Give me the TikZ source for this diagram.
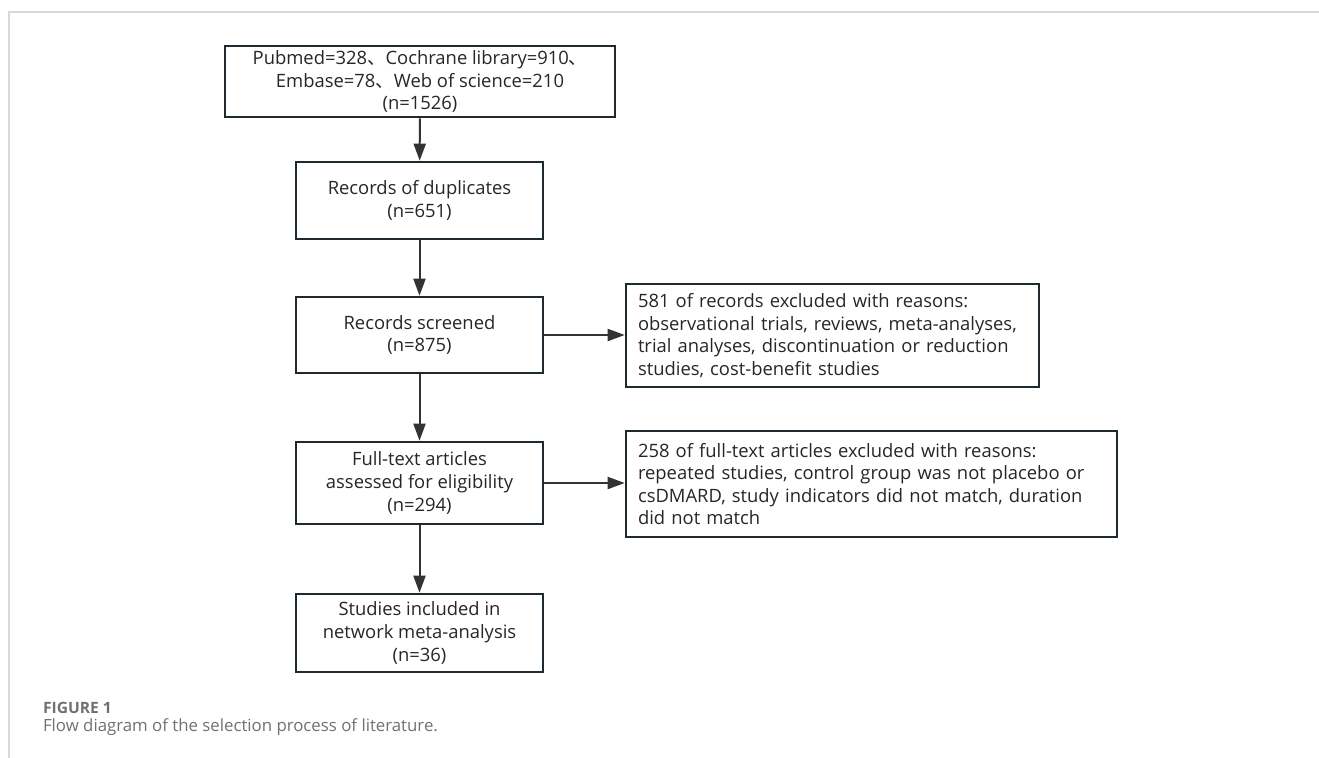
\documentclass[tikz,border=0pt]{standalone}
\usepackage{fontspec}
\setmainfont{Open Sans}
\newfontfamily\cjk{Noto Sans CJK SC}
\usepackage{tikz}
\usetikzlibrary{positioning,arrows.meta,calc}
\definecolor{boxline}{HTML}{1E2A30}
\definecolor{boxtext}{HTML}{262626}
\definecolor{arrowline}{HTML}{333333}
\definecolor{framegray}{HTML}{D9D9D9}
\definecolor{captiongray}{HTML}{707070}
\tikzset{
    every node/.style={font=\fontsize{9.2}{11.3}\selectfont,text=boxtext},
    flowbox/.style={rectangle,draw=boxline,line width=1.3pt,align=center,inner sep=1pt},
    sidebox/.style={rectangle,draw=boxline,line width=1.3pt,align=left,inner xsep=6pt,inner ysep=1pt},
    flowarrow/.style={draw=arrowline,line width=1pt,-{Triangle[length=8.5pt,width=6pt]}},
    framerule/.style={draw=framegray,line width=1pt}
}

\begin{document}
\begin{tikzpicture}[x=0.5pt,y=-0.5pt]
\useasboundingbox (0,0) rectangle (1319,758);
\draw[framerule] (1319,12) -- (9,12) -- (9,758);

% main column
\node[flowbox,minimum width=195pt,minimum height=35.5pt] (search) at (420,81.5)
    {Pubmed=328{\cjk 、}Cochrane library=910{\cjk 、}\\Embase=78{\cjk 、}Web of science=210\\(n=1526)};
\node[flowbox,minimum width=123.5pt,minimum height=38.5pt] (duplicates) at (419.5,200.5)
    {Records of duplicates\\(n=651)};
\node[flowbox,minimum width=123.5pt,minimum height=38pt] (screened) at (419.5,335)
    {Records screened\\(n=875)};
\node[flowbox,minimum width=123.5pt,minimum height=41pt] (fulltext) at (419.5,483)
    {Full-text articles\\assessed for eligibility\\(n=294)};
\node[flowbox,minimum width=123.5pt,minimum height=39pt] (included) at (419.5,633)
    {Studies included in\\network meta-analysis\\(n=36)};

% exclusions
\node[sidebox,text width=194.5pt,minimum height=51.5pt] (exclscreen) at (832.5,335.5)
    {581 of records excluded with reasons:\\observational trials, reviews, meta-analyses,\\trial analyses, discontinuation or reduction\\studies, cost-benefit studies};
\node[sidebox,text width=233.5pt,minimum height=53pt] (exclfull) at (871.5,484)
    {258 of full-text articles excluded with reasons:\\repeated studies, control group was not placebo or\\csDMARD, study indicators did not match, duration\\did not match};

\draw[flowarrow] (search) -- (duplicates);
\draw[flowarrow] (duplicates) -- (screened);
\draw[flowarrow] (screened) -- (fulltext);
\draw[flowarrow] (fulltext) -- (included);
\draw[flowarrow] (screened.east) -- (screened.east -| exclscreen.west);
\draw[flowarrow] (fulltext.east) -- (fulltext.east -| exclfull.west);

% caption
\node[anchor=west,font=\fontsize{7.8}{9}\selectfont\bfseries,text=captiongray] (figlabel) at (36,708) {FIGURE 1};
\node[anchor=west,font=\fontsize{8.4}{10}\selectfont,text=captiongray] (figcaption) at (36,727)
    {Flow diagram of the selection process of literature.};
\end{tikzpicture}
\end{document}
